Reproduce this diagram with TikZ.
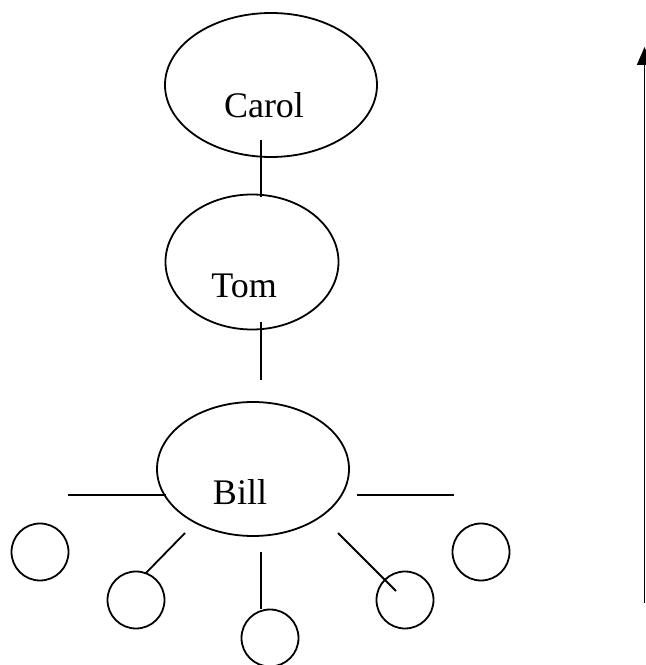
\documentclass[tikz,border=0pt]{standalone}
\usepackage{fontspec}
\setmainfont{Liberation Serif}
\usetikzlibrary{shapes.geometric,arrows.meta,calc}

\begin{document}
\begin{tikzpicture}[x=1pt, y=1pt, line width=1.8pt,
                    person/.style={ellipse, draw, inner sep=0pt, outer sep=0pt},
                    leaf/.style={circle, draw, minimum size=57pt, inner sep=0pt, outer sep=0pt},
                    nametext/.style={anchor=base, inner sep=0pt, font=\fontsize{36}{40}\selectfont}]
                    \useasboundingbox (0,0) rectangle (646,665);

                    \node[person, minimum width=212pt, minimum height=144pt] (carol) at (271,580) {};
                    \node[person, minimum width=173pt, minimum height=135pt] (tom) at ([shift={(-19,-177)}] carol) {};
                    \node[person, minimum width=192pt, minimum height=134pt] (bill) at ([shift={(1,-207)}] tom) {};
                    \node[nametext] (carolname) at (264,547) {Carol};
                    \node[nametext] (tomname) at (244,367) {Tom};
                    \node[nametext] (billname) at (240,160) {Bill};

                    \node[leaf] (c1) at ([shift={(-213,-83)}] bill) {};
                    \node[leaf] (c2) at ([shift={(-117,-131)}] bill) {};
                    \node[leaf] (c3) at ([shift={(17,-169)}] bill) {};
                    \node[leaf] (c4) at ([shift={(152,-131)}] bill) {};
                    \node[leaf] (c5) at ([shift={(228,-83)}] bill) {};

                    \coordinate (lefttip) at (68,170);
                    \coordinate (righttip) at (454,170);
                    \coordinate (axisbot) at (644.5,62);
                    \coordinate (axistop) at (644.5,618);

                    \draw ([shift={(-10,17)}] carol.south) -- ([shift={(9,-3)}] tom.north);
                    \draw ([shift={(9,7.5)}] tom.south) -- ([shift={(8,22)}] bill.north);
                    \draw (lefttip) -- ([shift={(9,-26)}] bill.west);
                    \draw ([shift={(8,-26)}] bill.east) -- (righttip);
                    \draw ($(bill)+(-68,-64)$) -- (c2.70);
                    \draw ($(bill)+(8,-83)$) -- ([xshift=-9] c3.north);
                    \draw ($(bill)+(85,-64)$) -- ($(c4)+(-9,9)$);

                    \draw[-{Triangle[length=18pt, width=15pt]}] (axisbot) -- (axistop);
                \end{tikzpicture}
\end{document}
